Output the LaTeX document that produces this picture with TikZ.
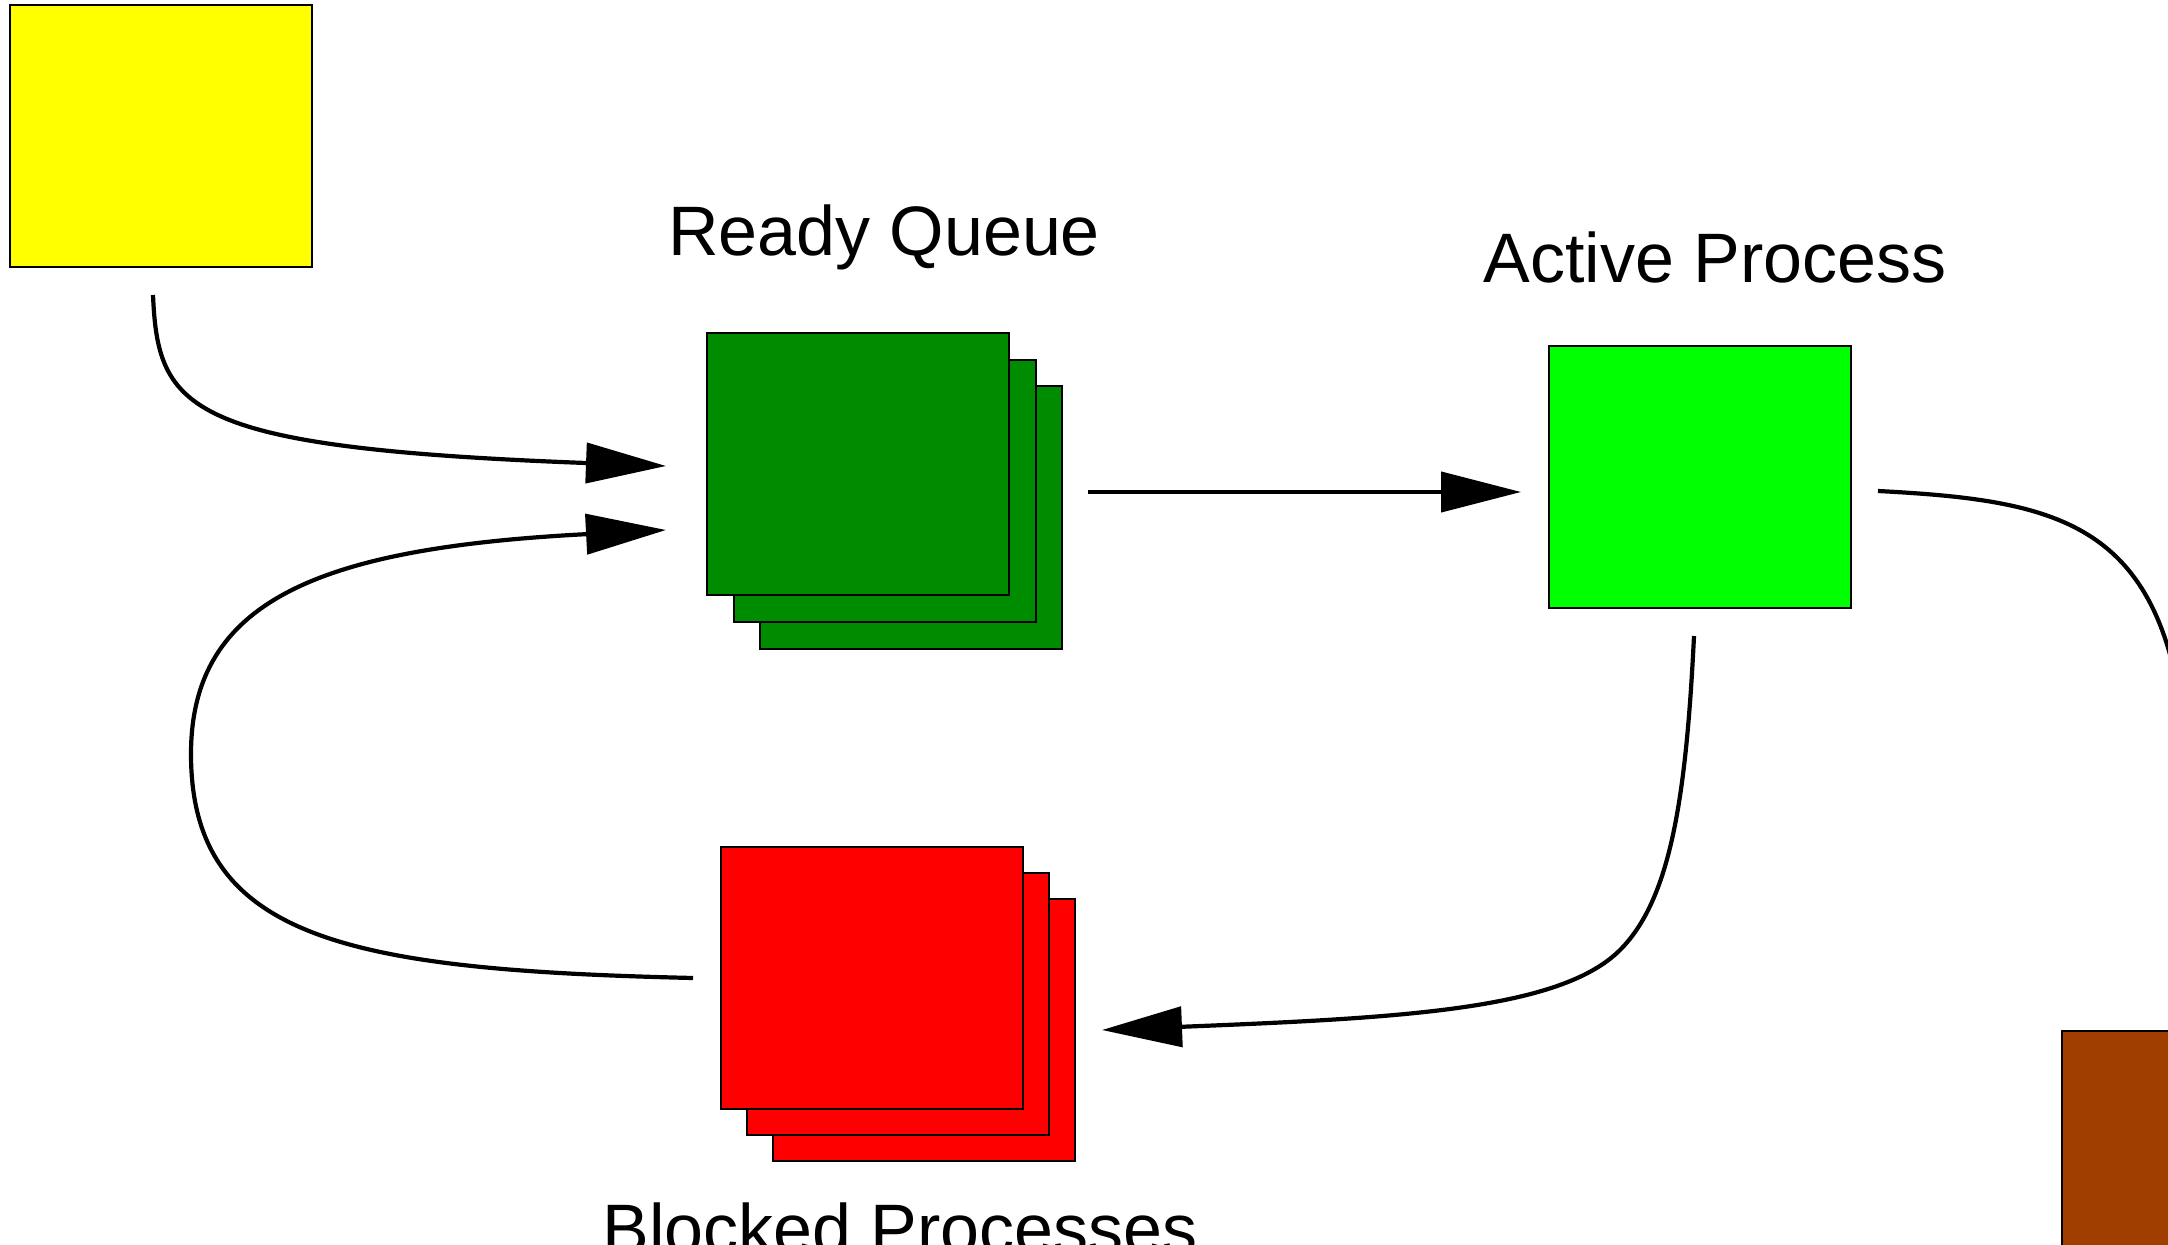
\documentclass[tikz,border=0pt]{standalone}
\usepackage{fontspec}
\setmainfont{Liberation Sans}
\usetikzlibrary{arrows.meta}
\definecolor{cyellow}{RGB}{255,255,0}
\definecolor{cdgreen}{RGB}{0,140,0}
\definecolor{clgreen}{RGB}{0,255,0}
\definecolor{cred}{RGB}{255,0,0}
\definecolor{cbrown}{RGB}{160,62,0}
\tikzset{
  box/.style={draw=black, line width=1pt, inner sep=0pt, minimum width=151pt, minimum height=131pt},
  lbl/.style={anchor=base, inner sep=0pt, font=\fontsize{35}{40}\selectfont},
  conn/.style={line width=2.1pt, -{Triangle[length=40pt,width=20pt]}},
  plain/.style={line width=2.1pt}
}
\begin{document}
\begin{tikzpicture}[x=0.5pt,y=-0.5pt]
\useasboundingbox (0,0) rectangle (2168,1245);
\clip (0,0) rectangle (2168,1245);
\fill[white] (0,0) rectangle (2168,1245);
% boxes
\node[box, fill=cyellow] (new) at (160.5,136.5) {};
\node[box, fill=cdgreen] (rq3) at (910.5,517.5) {};
\node[box, fill=cdgreen] (rq2) at (884.5,491) {};
\node[box, fill=cdgreen] (rq1) at (858,464.5) {};
\node[box, fill=clgreen] (act) at (1699.5,477.5) {};
\node[box, fill=cred] (bl3) at (924,1029.5) {};
\node[box, fill=cred] (bl2) at (898,1003.5) {};
\node[box, fill=cred] (bl1) at (871.5,977.5) {};
\node[box, fill=cbrown] (done) at (2213,1162) {};
% labels
\node[lbl] (lrq) at (884,256) {Ready Queue};
\node[lbl] (lact) at (1715,283) {Active Process};
\node[lbl] (lbl) at (900,1253) {Blocked Processes};
% connector end points
\coordinate (newout) at (153,295);
\coordinate (rqin1) at (666,466);
\coordinate (rqin2) at (666,530);
\coordinate (rqout) at (1088,492);
\coordinate (actin) at (1521,492);
\coordinate (actdown) at (1694,636);
\coordinate (actright) at (1878,491);
\coordinate (blin) at (1102,1030);
\coordinate (blout) at (693,978);
\coordinate (doneend) at (2180,700);
% connectors
\draw[conn] (newout) .. controls (158,410) and (185,448) .. (rqin1);
\draw[conn] (rqout) -- (actin);
\draw[conn] (actdown) .. controls (1686,800) and (1670,900) .. (1620,950)
  .. controls (1560,1010) and (1400,1018) .. (blin);
\draw[conn] (blout) .. controls (350,970) and (191,940) .. (191,754)
  .. controls (191,600) and (320,548) .. (rqin2);
\draw[plain] (actright) .. controls (2050,500) and (2150,520) .. (doneend);
\end{tikzpicture}
\end{document}
